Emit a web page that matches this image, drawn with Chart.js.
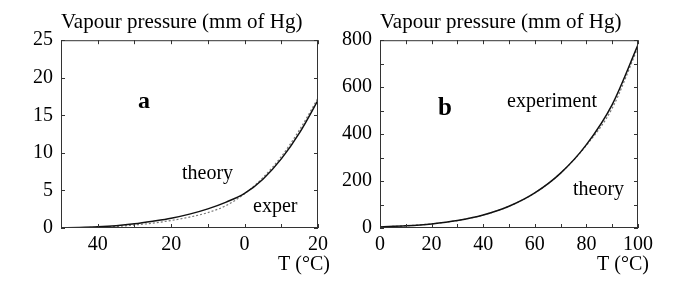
<!DOCTYPE html>
<html>
<head>
<meta charset="utf-8">
<script src="https://cdn.jsdelivr.net/npm/chart.js@4/dist/chart.umd.min.js"></script>
<style>
  body { margin: 0; background: #fff; }
  .wrap { position: absolute; top: 0; height: 305px; }
  #wa { left: 0; width: 335px; }
  #wb { left: 335px; width: 352px; }
</style>
</head>
<body>
<div class="wrap" id="wa"><canvas id="chartA"></canvas></div>
<div class="wrap" id="wb"><canvas id="chartB"></canvas></div>
<script>
// panel a: ice / supercooled range
const tempA = [-50, -45, -40, -35, -30, -25, -20, -15, -10, -5, 0, 5, 10, 15, 20];
const theoryA = [0.03, 0.07, 0.15, 0.3, 0.55, 0.9, 1.3, 1.85, 2.55, 3.45, 4.6, 6.5, 9.2, 12.7, 17.0];
const experA = [0.02, 0.04, 0.1, 0.2, 0.4, 0.65, 1.0, 1.45, 2.05, 3.0, 4.55, 6.7, 9.5, 13.1, 17.3];

// panel b: 0..100 C
const tempB = [0, 10, 20, 30, 40, 50, 60, 70, 80, 90, 100];
const theoryB = [4.6, 9.2, 17.5, 31.8, 55.3, 92.5, 149.4, 233.7, 355.1, 525.8, 780];
const experB = [4.6, 9.2, 17.5, 31.8, 55.3, 92.5, 149.4, 233.7, 352, 510, 770];

const titleText = 'Vapour pressure (mm of Hg)';
const xTitle = 'T (\u00b0C)';

Chart.defaults.font.family = "'Liberation Serif', 'Times New Roman', serif";
Chart.defaults.font.size = 20;
Chart.defaults.color = '#000';

function pts(xs, ys) {
  return xs.map((x, i) => ({ x: x, y: ys[i] }));
}

// frame + inward ticks on all four sides, plus free text labels
const framePlugin = {
  id: 'frame',
  afterDraw(chart, args, opts) {
    const ctx = chart.ctx;
    const a = chart.chartArea;
    const xs = chart.scales.x, ys = chart.scales.y;
    ctx.save();
    ctx.strokeStyle = '#333';
    ctx.lineWidth = 1;
    ctx.strokeRect(a.left + 0.5, a.top + 0.5, a.right - a.left - 1, a.bottom - a.top - 1);
    ctx.beginPath();
    xs.ticks.forEach(t => {
      const px = Math.round(xs.getPixelForValue(t.value)) + 0.5;
      ctx.moveTo(px, a.bottom); ctx.lineTo(px, a.bottom - 4);
      ctx.moveTo(px, a.top); ctx.lineTo(px, a.top + 4);
    });
    ys.ticks.forEach(t => {
      const py = Math.round(ys.getPixelForValue(t.value)) + 0.5;
      ctx.moveTo(a.left, py); ctx.lineTo(a.left + 4, py);
      ctx.moveTo(a.right, py); ctx.lineTo(a.right - 4, py);
    });
    ctx.stroke();
    ctx.fillStyle = '#000';
    ctx.textAlign = 'left';
    ctx.textBaseline = 'alphabetic';
    (opts.labels || []).forEach(l => {
      ctx.font = (l.bold ? 'bold ' : '') + l.size + "px 'Liberation Serif', serif";
      ctx.fillText(l.text, a.left + l.dx, a.top + l.dy);
    });
    ctx.restore();
  }
};

function makeChart(id, cfg) {
  return new Chart(document.getElementById(id), {
    type: 'line',
    data: {
      datasets: [
        {
          label: 'theory',
          data: pts(cfg.temp, cfg.theory),
          borderColor: '#111',
          borderWidth: 1.5,
          pointRadius: 0,
          cubicInterpolationMode: 'monotone',
          fill: false
        },
        {
          label: 'experiment',
          data: pts(cfg.temp, cfg.exper),
          borderColor: '#777',
          borderWidth: 1.2,
          borderDash: [2, 2],
          pointRadius: 0,
          cubicInterpolationMode: 'monotone',
          fill: false
        }
      ]
    },
    options: {
      responsive: true,
      maintainAspectRatio: false,
      animation: false,
      layout: { padding: { left: 0, right: cfg.padRight, top: 0, bottom: 47 } },
      plugins: {
        legend: { display: false },
        tooltip: { enabled: false },
        title: {
          display: true,
          text: titleText,
          align: 'start',
          fullSize: false,
          font: { size: 21, weight: 'normal' },
          padding: { top: 10, bottom: 5 }
        },
        frame: { labels: cfg.labels }
      },
      scales: {
        x: {
          type: 'linear',
          min: cfg.xMin, max: cfg.xMax,
          ticks: {
            stepSize: cfg.xStep,
            padding: 5,
            maxRotation: 0,
            autoSkip: false,
            callback: v => (v % cfg.xLabelStep === 0 ? String(Math.abs(v)) : '')
          },
          grid: { display: false, drawTicks: false },
          border: { display: false },
          afterFit: s => { s.height = 30; }
        },
        y: {
          min: cfg.yMin, max: cfg.yMax,
          ticks: {
            stepSize: cfg.yStep,
            padding: 8,
            autoSkip: false,
            callback: v => (v % cfg.yLabelStep === 0 ? String(v) : '')
          },
          grid: { display: false, drawTicks: false },
          border: { display: false },
          afterFit: s => { s.width = cfg.yWidth; }
        }
      }
    },
    plugins: [framePlugin]
  });
}

makeChart('chartA', {
  temp: tempA, theory: theoryA, exper: experA,
  xMin: -50, xMax: 20, xStep: 10, xLabelStep: 20,
  yMin: 0, yMax: 25, yStep: 5, yLabelStep: 5,
  yWidth: 61, padRight: 17,
  labels: [
    { text: 'a', bold: true, size: 24, dx: 77, dy: 68 },
    { text: 'theory', size: 20, dx: 121, dy: 139 },
    { text: 'exper', size: 20, dx: 192, dy: 172 },
    { text: xTitle, size: 20, dx: 217, dy: 230 }
  ]
});

makeChart('chartB', {
  temp: tempB, theory: theoryB, exper: experB,
  xMin: 0, xMax: 100, xStep: 10, xLabelStep: 20,
  yMin: 0, yMax: 800, yStep: 100, yLabelStep: 200,
  yWidth: 45, padRight: 49,
  labels: [
    { text: 'b', bold: true, size: 25, dx: 58, dy: 75 },
    { text: 'experiment', size: 20, dx: 127, dy: 67 },
    { text: 'theory', size: 20, dx: 193, dy: 155 },
    { text: xTitle, size: 20, dx: 217, dy: 230 }
  ]
});
</script>
</body>
</html>
